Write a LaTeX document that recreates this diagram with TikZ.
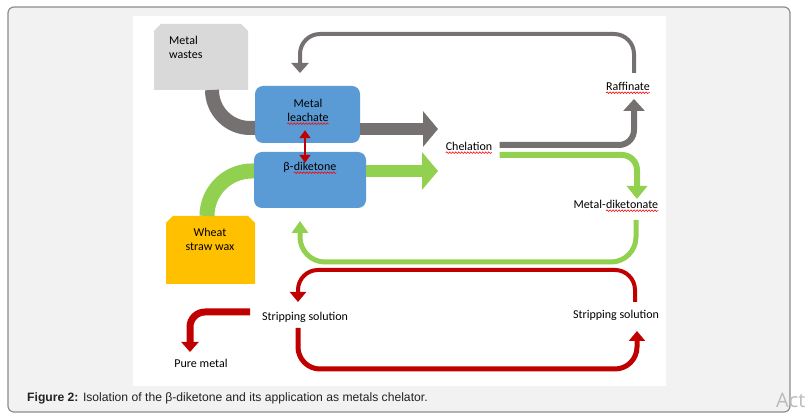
\documentclass[tikz,border=0pt]{standalone}
\usepackage{fontspec}
\setmainfont{Carlito}
\newfontfamily\capfont{Liberation Sans}
\newfontfamily\actfont{Open Sans}
\usetikzlibrary{arrows.meta,calc,decorations.pathmorphing}

\definecolor{flowgray}{HTML}{767171}
\definecolor{wastegray}{HTML}{D9D9D9}
\definecolor{boxblue}{HTML}{5B9BD5}
\definecolor{flowgreen}{HTML}{92D050}
\definecolor{wheatorange}{HTML}{FFC000}
\definecolor{flowred}{HTML}{C00000}
\definecolor{spellred}{HTML}{FF0000}
\definecolor{panelbg}{HTML}{F2F2F2}
\definecolor{framegray}{HTML}{8C8C8C}
\definecolor{captext}{HTML}{222222}
\definecolor{actgray}{HTML}{BBBBBB}

% red wavy underline of the spell checker
\newcommand\spell[1]{\tikz[baseline=(w.base)]{\node[inner sep=0pt,outer sep=0pt] (w) {#1};
    \draw[spellred,line width=0.6pt,decorate,decoration={snake,amplitude=0.8pt,segment length=3pt}]
        ([yshift=-2.2pt]w.base west) -- ([yshift=-2.2pt]w.base east);}}

\begin{document}
\begin{tikzpicture}[x=1pt,y=-1pt,
    lbl/.style={inner sep=0pt,font=\fontsize{12}{14}\selectfont,align=center},
    box/.style={fill=boxblue,rounded corners=8pt,inner sep=0pt},
    graypipe/.style={flowgray,line width=14pt},
    greenpipe/.style={flowgreen,line width=15pt},
    grayblock/.style={flowgray,line width=12pt,-{Triangle[width=35pt,length=15pt]}},
    greenblock/.style={flowgreen,line width=12pt,-{Triangle[width=37pt,length=16pt]}},
    grayline/.style={flowgray,line width=6pt,-{Triangle[width=21pt,length=12pt]}},
    greenline/.style={flowgreen,line width=6pt,-{Triangle[width=20pt,length=13pt]}},
    grayback/.style={flowgray,line width=4pt,-{Triangle[width=17pt,length=10pt]}},
    greenback/.style={flowgreen,line width=5pt,-{Triangle[width=16pt,length=12pt]}},
    redback/.style={flowred,line width=4pt,-{Triangle[width=16pt,length=10pt]}},
    redpure/.style={flowred,line width=7pt,-{Triangle[width=17pt,length=10pt]}},
    redbi/.style={flowred,line width=1.8pt,{Triangle[width=11pt,length=8pt]}-{Triangle[width=11pt,length=8pt]}}]
    \useasboundingbox (0,0) rectangle (806,419);
    \draw[framegray,fill=panelbg,line width=1.2pt,rounded corners=6pt] (8,7) rectangle (790,412);
    \fill[white] (133,16) rectangle (666,386);

    % sources
    \fill[wastegray] (154,90) -- (154,31) -- (161,24) -- (241,24) -- (248,31) -- (248,90) -- cycle;
    \fill[wheatorange] (166,284) -- (166,223) -- (173,216) -- (248,216) -- (255,223) -- (255,284) -- cycle;
    \node[lbl,align=left,anchor=west] (wastes) at (169,47) {Metal\\wastes};
    \node[lbl] (wheat) at (210,239.5) {Wheat\\straw wax};

    \node[box,minimum width=105pt,minimum height=57pt] (leachate) at (307.5,114.5) {};
    \node[box,minimum width=112pt,minimum height=56pt] (diketone) at (310,180) {};
    \node[lbl] (leachtxt) at (308,112) {Metal\\\spell{leachate}};
    \node[lbl] (ketonetxt) at (310,168) {β-\spell{diketone}};

    \node[lbl] (chel) at (469,148) {\spell{Chelation}};
    \node[lbl] (raff) at (628,88) {\spell{Raffinate}};
    \node[lbl] (mdk) at (616,206) {Metal-\spell{diketonate}};
    \node[lbl] (stripL) at (305,317) {Stripping solution};
    \node[lbl] (stripR) at (616,315) {Stripping solution};
    \node[lbl] (pure) at (201,363) {Pure metal};

    \coordinate (wasteout) at (212,90);
    \coordinate (wheatout) at (207,216);
    \coordinate (grayhead) at (438,129);
    \coordinate (greenhead) at (438,171);
    \coordinate (raffin) at (634,99);
    \coordinate (raffout) at (634,73);
    \coordinate (leachtop) at (300,73);
    \coordinate (mdkin) at (637,199);
    \coordinate (mdkout) at (636,220);
    \coordinate (ketonebot) at (300,221);
    \coordinate (stripRtop) at (635,302);
    \coordinate (stripLtop) at (298,302);
    \coordinate (stripLbot) at (298,328);
    \coordinate (stripRbot) at (637,331);
    \coordinate (stripLout) at (250,312);
    \coordinate (purein) at (190,352);

    % feed pipes into the boxes
    \draw[graypipe,rounded corners=38pt] (wasteout) |- ($(leachate.west)+(0,13.5)$);
    \draw[greenpipe,rounded corners=45pt] (wheatout) |- ($(diketone.west)+(0,-9)$);
    \draw[grayblock] ($(leachate.east)+(0,14.5)$) -- (grayhead);
    \draw[greenblock] ($(diketone.east)+(0,-9)$) -- (greenhead);
    \draw[redbi] ($(leachate.south)+(-2.5,-13)$) -- ($(diketone.north)+(-5,11)$);

    % chelation products
    \draw[grayline,rounded corners=15pt] ($(chel.east)+(7,-3)$) -| (raffin);
    \draw[greenline,rounded corners=15pt] ($(chel.east)+(7,7)$) -| (mdkin);

    % recycling loops
    \draw[grayback,rounded corners=20pt] (raffout) |- (467,34) -| (leachtop);
    \draw[greenback,rounded corners=25pt] (mdkout) |- (467,262) -| (ketonebot);
    \draw[redback,rounded corners=20pt] (stripRtop) |- (467,270) -| (stripLtop);
    \draw[redback,line width=5pt,rounded corners=22pt] (stripLbot) |- (467,369) -| (stripRbot);
    \draw[redpure,rounded corners=15pt] (stripLout) -| (purein);

    \node[anchor=west,inner sep=0pt,text=captext,font=\capfont\fontsize{12.15}{14}\selectfont] (caption) at (27,398)
        {\textbf{Figure 2:} Isolation of the β-diketone and its application as metals chelator.};
    \node[anchor=west,inner sep=0pt,text=actgray,font=\actfont\fontsize{20}{20}\selectfont] (act) at (776,400) {Act};
\end{tikzpicture}
\end{document}
